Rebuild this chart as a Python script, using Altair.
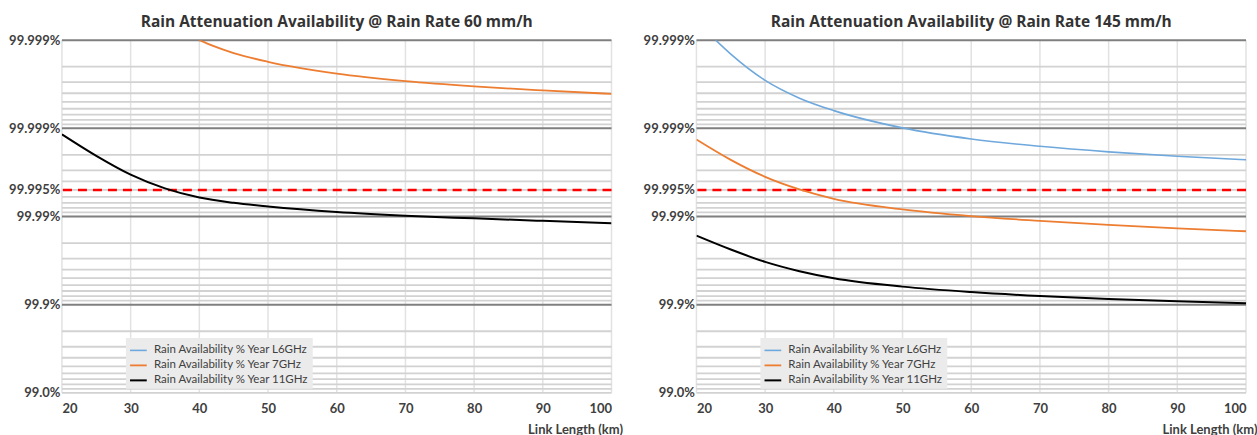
import altair as alt
import pandas as pd

# ---------------- data ----------------
SERIES = ["Rain Availability % Year L6GHz",
          "Rain Availability % Year 7GHz",
          "Rain Availability % Year 11GHz"]
COLORS = ["#6fa8dc", "#ed7d31", "#000000"]
WIDTHS = [1.6, 2.0, 2.4]

# unavailability in % (100 - availability), log scale
y_tick_values = [0.0001, 0.001, 0.005, 0.01, 0.1, 1]
y_tick_labels = ["99.999%", "99.999%", "99.995%", "99.99%", "99.9%", "99.0%"]
x_ticks = [20, 30, 40, 50, 60, 70, 80, 90, 100]
major_lines = [0.0001, 0.001, 0.01, 0.1]
minor_lines = [m * 10.0 ** e for e in range(-4, 0) for m in range(2, 10)] + [1]
threshold = [0.005]

# Left panel: 60 mm/h
left_7_km = [40, 42, 45, 50, 60, 70, 80, 90, 100]
left_7_u = [1.0e-4, 1.16e-4, 1.40e-4, 1.76e-4, 2.40e-4, 2.92e-4, 3.35e-4, 3.72e-4, 4.07e-4]
left_11_km = [20, 25, 30, 35, 40, 45, 50, 60, 70, 80, 90, 100]
left_11_u = [1.17e-3, 2.05e-3, 3.35e-3, 4.8e-3, 6.1e-3, 7.0e-3, 7.7e-3, 8.9e-3, 9.8e-3,
             1.05e-2, 1.12e-2, 1.19e-2]

# Right panel: 145 mm/h
right_l6_km = [22.8, 25, 30, 35, 40, 50, 60, 70, 80, 90, 100]
right_l6_u = [1.0e-4, 1.44e-4, 2.86e-4, 4.55e-4, 6.3e-4, 9.89e-4, 1.32e-3, 1.60e-3,
              1.85e-3, 2.07e-3, 2.27e-3]
right_7_km = [20, 25, 30, 35, 40, 50, 60, 70, 80, 90, 100]
right_7_u = [1.34e-3, 2.28e-3, 3.55e-3, 4.93e-3, 6.3e-3, 8.3e-3, 9.9e-3, 1.12e-2,
             1.245e-2, 1.36e-2, 1.47e-2]
right_11_km = [20, 25, 30, 35, 40, 50, 60, 70, 80, 90, 100]
right_11_u = [1.65e-2, 2.37e-2, 3.27e-2, 4.17e-2, 5.01e-2, 6.24e-2, 7.19e-2, 7.98e-2,
              8.63e-2, 9.16e-2, 9.66e-2]

FONT = "Lato"
TITLE_FONT = "Open Sans"
label_expr = "{}[indexof({}, datum.value)]".format(
    "[" + ",".join("'%s'" % s for s in y_tick_labels) + "]",
    "[" + ",".join(repr(v) for v in y_tick_values) + "]")


def series_df(pairs):
    rows = []
    for name, kms, us in pairs:
        for k, u in zip(kms, us):
            rows.append({"km": k, "u": u, "series": name})
    return pd.DataFrame(rows)


def panel(title, pairs):
    xs = alt.Scale(domain=[20, 100], nice=False, zero=False)
    ys = alt.Scale(type="log", domain=[0.0001, 1], reverse=True, nice=False)
    x_axis = alt.Axis(values=x_ticks, title="Link Length (km)", labelPadding=10,
                      titleX=561, titleY=37, titleAlign="right", titleBaseline="middle",
                      titleFont=FONT, titleFontSize=13, titleFontWeight="bold",
                      titleColor="#404040")
    y_axis = alt.Axis(values=y_tick_values, labelExpr=label_expr, title=None,
                      labelPadding=2, labelBaseline="middle")

    vgrid = alt.Chart(pd.DataFrame({"km": x_ticks})).mark_rule(
        color="#e2e2e2", strokeWidth=1.5).encode(
        x=alt.X("km:Q", scale=xs, axis=x_axis))
    minor = alt.Chart(pd.DataFrame({"u": minor_lines})).mark_rule(
        color="#d2d2d2", strokeWidth=1.8).encode(
        y=alt.Y("u:Q", scale=ys, axis=y_axis))
    major = alt.Chart(pd.DataFrame({"u": major_lines})).mark_rule(
        color="#7f7f7f", strokeWidth=2).encode(
        y=alt.Y("u:Q", scale=ys, axis=y_axis))
    red = alt.Chart(pd.DataFrame({"u": threshold})).mark_rule(
        color="#ff0000", strokeWidth=2.5, strokeDash=[9, 6]).encode(
        y=alt.Y("u:Q", scale=ys, axis=y_axis))
    lines = alt.Chart(series_df(pairs)).mark_line(
        interpolate="monotone", clip=True).encode(
        x=alt.X("km:Q", scale=xs, axis=x_axis),
        y=alt.Y("u:Q", scale=ys, axis=y_axis),
        color=alt.Color("series:N", scale=alt.Scale(domain=SERIES, range=COLORS),
                        sort=SERIES,
                        legend=alt.Legend(orient="none", legendX=64, legendY=298,
                                          title=None, fillColor="#ebebeb",
                                          padding=3, symbolType="stroke",
                                          symbolSize=280, symbolStrokeWidth=2,
                                          labelFont=FONT, labelFontSize=11.5,
                                          labelColor="#404040", rowPadding=0,
                                          labelOffset=6)),
        strokeWidth=alt.StrokeWidth("series:N",
                                    scale=alt.Scale(domain=SERIES, range=WIDTHS),
                                    legend=None),
        detail="series:N")
    return alt.layer(vgrid, minor, major, red, lines).properties(
        width=550, height=353,
        title=alt.TitleParams(title, font=TITLE_FONT, fontSize=15.5, fontWeight="bold",
                              color="#333333", offset=4))


left = panel("Rain Attenuation Availability @ Rain Rate 60 mm/h",
             [(SERIES[1], left_7_km, left_7_u), (SERIES[2], left_11_km, left_11_u)])
right = panel("Rain Attenuation Availability @ Rain Rate 145 mm/h",
              [(SERIES[0], right_l6_km, right_l6_u), (SERIES[1], right_7_km, right_7_u),
               (SERIES[2], right_11_km, right_11_u)])

chart = alt.hconcat(left, right, spacing=20).resolve_scale(
    color="independent", strokeWidth="independent").resolve_legend(
    color="independent").properties(
    padding={"left": 8, "top": 14, "right": 0, "bottom": 0},
    background="white").configure_view(stroke=None).configure_axis(
    labelFont=FONT, labelFontWeight="bold", labelFontSize=13, labelColor="#404040",
    ticks=False, domain=False, grid=False)

chart.save("out.html", embed_options={"renderer": "svg", "actions": False})
